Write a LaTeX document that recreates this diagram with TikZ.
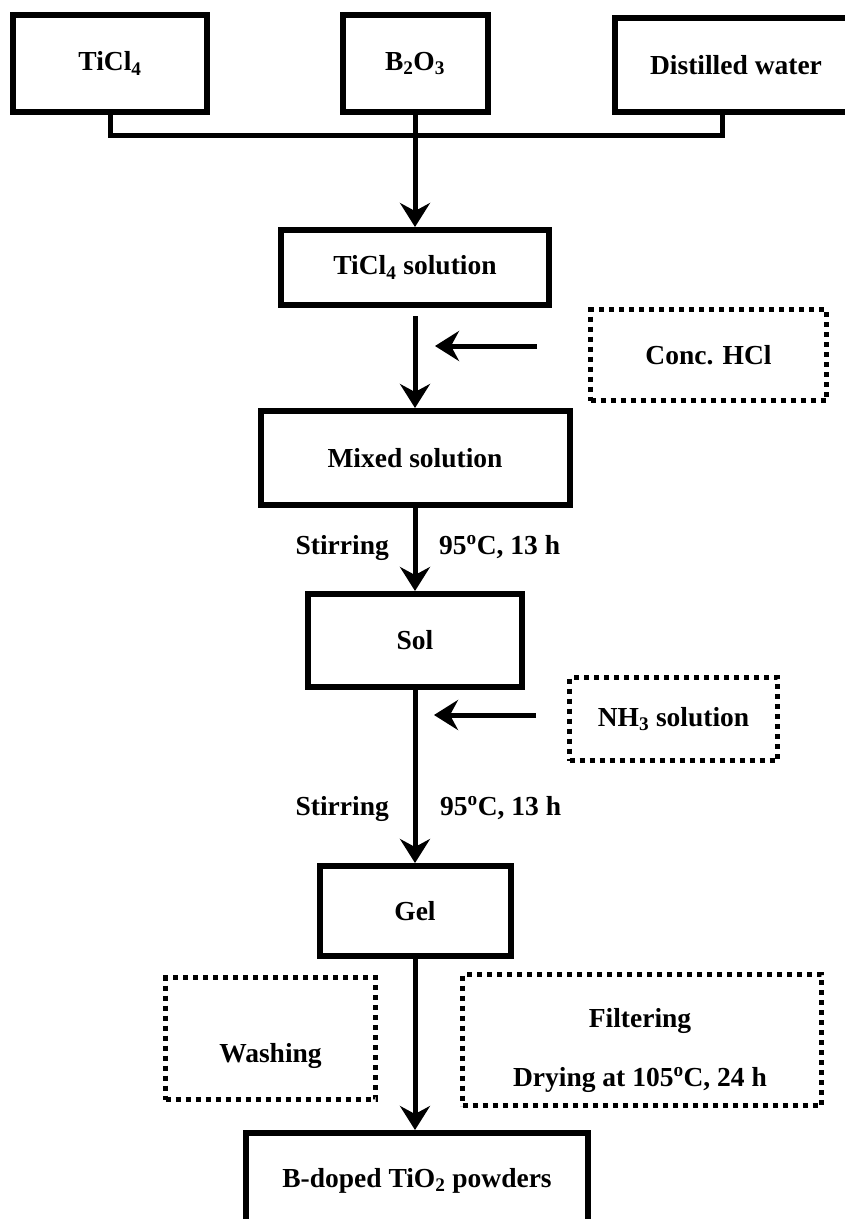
\documentclass[tikz,border=0pt]{standalone}
\usepackage{fontspec}
\setmainfont{Liberation Serif}
\usetikzlibrary{arrows.meta}
\begin{document}
\begin{tikzpicture}[x=1pt,y=-1pt,
  font=\fontsize{27.5}{33}\selectfont\bfseries,
  box/.style={draw, line width=6pt, inner sep=0pt},
  dotbox/.style={draw, line width=5pt, dash pattern=on 5pt off 5pt, inner sep=0pt},
  conn/.style={line width=5pt},
  arr/.style={line width=5pt, -{Stealth[length=24pt,width=30pt,inset=8pt]}},
  lbl/.style={inner sep=0pt}
]
\useasboundingbox (0,0) rectangle (845,1219);

% top inputs
\node[box, minimum width=194pt, minimum height=97pt] (ticl4) at (110,63.5) {TiCl\textsubscript{4}};
\node[box, minimum width=145pt, minimum height=97pt] (b2o3) at (415,63.5) {B\textsubscript{2}O\textsubscript{3}};
\node[box, minimum width=242pt, minimum height=94pt] (water) at (736,65) {Distilled water};

\coordinate (jL) at (110,135);
\coordinate (jC) at (415,135);
\coordinate (jR) at (722,135);
\draw[conn] (ticl4.south) -- (jL) -- (jR) -- (water.south -| jR);
\draw[conn] (b2o3.south) -- (jC);

% main chain
\node[box, minimum width=268pt, minimum height=75pt] (sol1) at (415,267.5) {TiCl\textsubscript{4} solution};
\node[box, minimum width=309pt, minimum height=94pt] (mixed) at (415,458) {Mixed solution};
\node[box, minimum width=214pt, minimum height=93pt] (sol) at (415,640.5) {Sol};
\node[box, minimum width=191pt, minimum height=90pt] (gel) at (415,911) {Gel};
\node[box, minimum width=342pt, minimum height=96pt] (final) at (417,1181) {B-doped TiO\textsubscript{2} powders};

\draw[arr] (jC) -- (sol1.north);
\draw[arr, shorten <=8pt] (sol1.south) -- (mixed.north);
\draw[arr] (mixed.south) -- (sol.north);
\draw[arr] (sol.south) -- (gel.north);
\draw[arr] (gel.south) -- (final.north -| gel.south);

% side additions
\node[dotbox, minimum width=236pt, minimum height=91pt] (hcl) at (708.5,355) {Conc. HCl};
\coordinate (hclS) at (537,346);
\coordinate (hclT) at (435,346);
\draw[arr] (hclS) -- (hclT);

\node[dotbox, minimum width=208pt, minimum height=83pt] (nh3) at (673.5,719) {NH\textsubscript{3} solution};
\coordinate (nh3S) at (536,715);
\coordinate (nh3T) at (434,715);
\draw[arr] (nh3S) -- (nh3T);

% labels on arrows
\node[lbl, anchor=base east] (st1) at (389,554) {Stirring};
\node[lbl, anchor=base west] (tc1) at (439,554) {95\textsuperscript{o}C, 13 h};
\node[lbl, anchor=base east] (st2) at (389,815) {Stirring};
\node[lbl, anchor=base west] (tc2) at (440,815) {95\textsuperscript{o}C, 13 h};

% bottom side boxes
\node[dotbox, minimum width=210pt, minimum height=122pt] (wash) at (270.5,1038.5) {};
\node[lbl, anchor=base] (washT) at (270.5,1062) {Washing};
\node[dotbox, minimum width=359pt, minimum height=131pt] (filt) at (642,1040) {};
\node[lbl, anchor=base] (filtT) at (640,1027) {Filtering};
\node[lbl, anchor=base] (dryT) at (640,1086) {Drying at 105\textsuperscript{o}C, 24 h};
\end{tikzpicture}
\end{document}
